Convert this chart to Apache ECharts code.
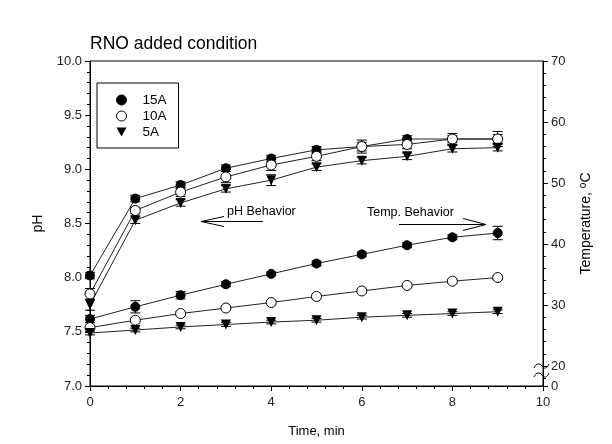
<!DOCTYPE html>
<html>
<head>
<meta charset="utf-8">
<script src="https://cdn.jsdelivr.net/npm/echarts@6/dist/echarts.min.js"></script>
<style>html,body{margin:0;padding:0;background:#fff}#c{width:612px;height:444px}</style>
</head>
<body>
<div id="c"></div>
<script>
// ---- data ----
const times = [0, 1, 2, 3, 4, 5, 6, 7, 8, 9];
const seriesNames = ['15A', '10A', '5A'];
const pH15 = [8.02, 8.73, 8.855, 9.01, 9.10, 9.18, 9.21, 9.28, 9.28, 9.28];
const pH10 = [7.85, 8.62, 8.79, 8.93, 9.04, 9.12, 9.21, 9.23, 9.28, 9.28];
const pH5  = [7.75, 8.53, 8.69, 8.82, 8.90, 9.02, 9.08, 9.12, 9.19, 9.20];
const pHErr15 = [0.03, 0.03, 0.03, 0.03, 0.03, 0.03, 0.04, 0.03, 0.03, 0.04];
const pHErr10 = [0.05, 0.03, 0.04, 0.05, 0.05, 0.04, 0.06, 0.04, 0.05, 0.07];
const pHErr5  = [0.05, 0.03, 0.03, 0.03, 0.05, 0.03, 0.03, 0.03, 0.03, 0.03];
const temp15 = [27.7, 29.7, 31.6, 33.4, 35.1, 36.8, 38.3, 39.8, 41.1, 41.8];
const temp10 = [26.3, 27.5, 28.6, 29.5, 30.4, 31.4, 32.3, 33.2, 33.9, 34.5];
const temp5  = [25.4, 25.9, 26.4, 26.8, 27.2, 27.5, 28.0, 28.3, 28.6, 28.9];
const tempErr15 = [0.6, 1.0, 0.6, 0.4, 0.3, 0.4, 0.4, 0.4, 0.4, 1.1];
const tempErr10 = [0.3, 0.3, 0.3, 0.3, 0.3, 0.3, 0.3, 0.3, 0.3, 0.3];
const tempErr5  = [0.3, 0.3, 0.3, 0.3, 0.3, 0.3, 0.3, 0.3, 0.3, 0.3];
const tempAxisMin = 16.72; // broken axis: shown as "0"
const tempAxisMax = 70;

const FONT = 'Liberation Sans, Arial, sans-serif';
const triDown = 'path://M0,0 L10,0 L5,9 Z';
const styles = [
  {symbol: 'circle', size: 9, item: {color: '#000', borderColor: '#000', borderWidth: 1}},
  {symbol: 'circle', size: 10, item: {color: '#fff', borderColor: '#000', borderWidth: 1}},
  {symbol: triDown, size: 10, item: {color: '#000', borderColor: '#000', borderWidth: 0}}
];

function pairs(vals) { return times.map((t, i) => [t, vals[i]]); }
function errData(vals, errs) { return times.map((t, i) => [t, vals[i] - errs[i], vals[i] + errs[i]]); }

function errSeries(name, vals, errs, yIdx) {
  return {
    name: name, type: 'custom', yAxisIndex: yIdx, z: 1,
    data: errData(vals, errs),
    renderItem: function (params, api) {
      const lo = api.coord([api.value(0), api.value(1)]);
      const hi = api.coord([api.value(0), api.value(2)]);
      const w = 5;
      const st = {stroke: '#000', lineWidth: 1};
      return {type: 'group', children: [
        {type: 'line', shape: {x1: lo[0], y1: lo[1], x2: hi[0], y2: hi[1]}, style: st},
        {type: 'line', shape: {x1: lo[0] - w, y1: lo[1], x2: lo[0] + w, y2: lo[1]}, style: st},
        {type: 'line', shape: {x1: hi[0] - w, y1: hi[1], x2: hi[0] + w, y2: hi[1]}, style: st}
      ]};
    }
  };
}
function lineSeries(name, vals, idx, yIdx) {
  const s = styles[idx];
  return {
    name: name, type: 'line', yAxisIndex: yIdx, z: 3,
    data: pairs(vals), symbol: s.symbol, symbolSize: s.size,
    showAllSymbol: true, animation: false,
    lineStyle: {color: '#222', width: 1},
    itemStyle: s.item
  };
}

const pHSets = [[pH15, pHErr15], [pH10, pHErr10], [pH5, pHErr5]];
const tSets = [[temp15, tempErr15], [temp10, tempErr10], [temp5, tempErr5]];
const series = [];
seriesNames.forEach((n, i) => {
  series.push(errSeries(n, pHSets[i][0], pHSets[i][1], 0));
  series.push(errSeries(n, tSets[i][0], tSets[i][1], 1));
});
seriesNames.forEach((n, i) => {
  series.push(lineSeries(n, pHSets[i][0], i, 0));
  series.push(lineSeries(n, tSets[i][0], i, 1));
});

const axisCommon = {
  axisLine: {show: true, lineStyle: {color: '#000', width: 1}},
  axisTick: {show: true, inside: false, length: 5, lineStyle: {color: '#000'}},
  minorTick: {show: true, splitNumber: 5, length: 3, lineStyle: {color: '#000'}},
  splitLine: {show: false},
  axisLabel: {color: '#222', fontSize: 13, fontFamily: FONT, margin: 8}
};

function wave(x, y) {
  return [
    {type: 'bezierCurve', shape: {x1: x, y1: y + 2, cpx1: x + 2, cpy1: y - 3, cpx2: x + 6, cpy2: y - 3, x2: x + 8, y2: y},
      style: {stroke: '#000', lineWidth: 1, fill: null}},
    {type: 'bezierCurve', shape: {x1: x + 8, y1: y, cpx1: x + 10, cpy1: y + 3, cpx2: x + 13, cpy2: y + 3, x2: x + 15, y2: y - 2},
      style: {stroke: '#000', lineWidth: 1, fill: null}}
  ];
}

const chart = echarts.init(document.getElementById('c'), null, {renderer: 'canvas'});
chart.setOption({
  animation: false,
  backgroundColor: '#fff',
  title: {text: 'RNO added condition', left: 85, top: 30,
    textStyle: {fontSize: 17.5, fontWeight: 'normal', color: '#000', fontFamily: FONT}},
  grid: {left: 90, right: 69, top: 61, bottom: 58, show: true, borderColor: '#000', borderWidth: 1, backgroundColor: 'transparent'},
  legend: {
    left: 97, top: 83, orient: 'vertical',
    data: [
      {name: '15A', icon: 'circle', itemStyle: {color: '#000', borderColor: '#000', borderWidth: 1}},
      {name: '10A', icon: 'circle', itemStyle: {color: '#fff', borderColor: '#000', borderWidth: 1}},
      {name: '5A', icon: triDown, itemStyle: {color: '#000', borderColor: '#000', borderWidth: 0}}
    ],
    itemWidth: 10, itemHeight: 10, itemGap: 2,
    padding: [10, 12, 9, 19],
    borderColor: '#000', borderWidth: 1, borderRadius: 0,
    textStyle: {fontSize: 13.5, color: '#000', fontFamily: FONT, padding: [0, 0, 0, 11]}
  },
  xAxis: Object.assign({}, axisCommon, {
    type: 'value', min: 0, max: 10, interval: 2,
    name: 'Time, min', nameLocation: 'middle', nameGap: 39,
    nameTextStyle: {fontSize: 13, color: '#000', fontFamily: FONT},
    axisLabel: Object.assign({}, axisCommon.axisLabel, {margin: 10})
  }),
  yAxis: [
    Object.assign({}, axisCommon, {
      type: 'value', min: 7, max: 10, interval: 0.5, position: 'left',
      name: 'pH', nameLocation: 'middle', nameGap: 45,
      nameTextStyle: {fontSize: 14, color: '#000', fontFamily: FONT},
      axisLabel: Object.assign({}, axisCommon.axisLabel, {formatter: v => v.toFixed(1)})
    }),
    Object.assign({}, axisCommon, {
      type: 'value', min: tempAxisMin, max: tempAxisMax, position: 'right', splitNumber: 5,
      name: 'Temperature, {sup|o}C', nameLocation: 'middle', nameGap: 35,
      nameTextStyle: {fontSize: 14, color: '#000', fontFamily: FONT,
        rich: {sup: {fontSize: 10, verticalAlign: 'top', padding: [0, 0, 6, 0], fontFamily: FONT}}},
      axisLabel: Object.assign({}, axisCommon.axisLabel, {showMinLabel: true,
        formatter: v => (v < 19 ? '0' : String(Math.round(v)))})
    })
  ],
  graphic: [
    {type: 'text', x: 227, y: 205, style: {text: 'pH Behavior', fontSize: 12.5, fill: '#000', fontFamily: FONT}},
    {type: 'polyline', shape: {points: [[201, 221.5], [263, 221.5]]}, style: {stroke: '#000', lineWidth: 1}},
    {type: 'polyline', shape: {points: [[224, 216.5], [201, 221.5], [224, 226.5]]}, style: {stroke: '#000', lineWidth: 1, fill: null}},
    {type: 'text', x: 367, y: 206, style: {text: 'Temp. Behavior', fontSize: 12.5, fill: '#000', fontFamily: FONT}},
    {type: 'polyline', shape: {points: [[399, 224.5], [486, 224.5]]}, style: {stroke: '#000', lineWidth: 1}},
    {type: 'polyline', shape: {points: [[463, 218.5], [486, 224.5], [463, 230.5]]}, style: {stroke: '#000', lineWidth: 1, fill: null}}
  ].concat(wave(534, 366)).concat(wave(534, 375)),
  series: series
});
</script>
</body>
</html>
